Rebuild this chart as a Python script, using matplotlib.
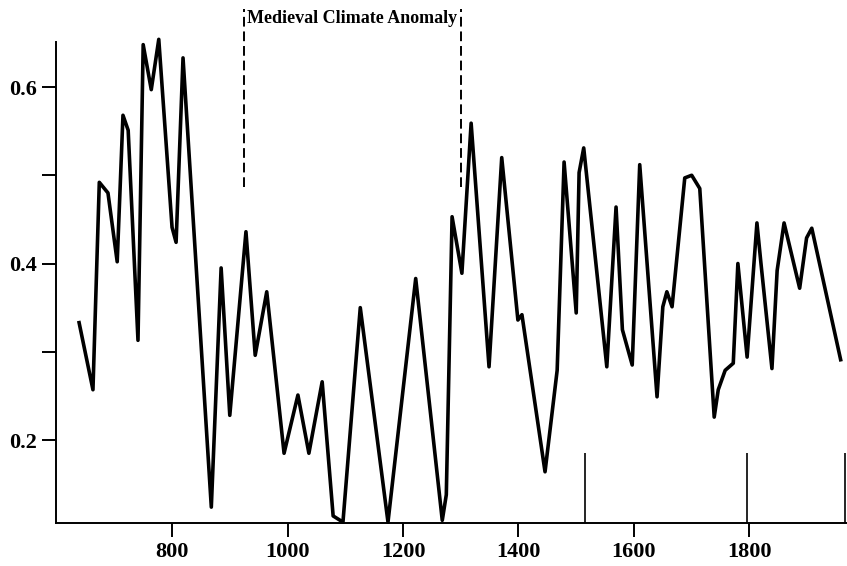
import matplotlib
matplotlib.use("Agg")
import matplotlib.pyplot as plt
from matplotlib.ticker import FixedLocator

# series
years = [639, 663, 674, 689, 705, 715, 724, 741, 750, 764,
         777, 800, 807, 819, 868, 885, 900, 928, 944, 964,
         994, 1018, 1037, 1060, 1079, 1096, 1126, 1174, 1222, 1268,
         1275, 1285, 1302, 1318, 1349, 1371, 1399, 1406, 1446, 1467,
         1479, 1500, 1505, 1513, 1553, 1569, 1580, 1597, 1610, 1640,
         1650, 1657, 1666, 1688, 1700, 1714, 1739, 1746, 1758, 1772,
         1780, 1796, 1813, 1820, 1839, 1848, 1860, 1887, 1899, 1908,
         1958]
values = [0.333, 0.257, 0.492, 0.48, 0.402, 0.568, 0.551, 0.313, 0.648, 0.597,
          0.654, 0.441, 0.424, 0.633, 0.124, 0.395, 0.228, 0.436, 0.296, 0.368,
          0.185, 0.251, 0.185, 0.266, 0.114, 0.107, 0.35, 0.107, 0.383, 0.109,
          0.138, 0.453, 0.389, 0.559, 0.283, 0.52, 0.336, 0.342, 0.164, 0.279,
          0.515, 0.344, 0.503, 0.531, 0.283, 0.464, 0.325, 0.285, 0.512, 0.249,
          0.351, 0.368, 0.351, 0.497, 0.5, 0.485, 0.226, 0.257, 0.279, 0.287,
          0.4, 0.294, 0.446, 0.4, 0.281, 0.392, 0.446, 0.372, 0.429, 0.44,
          0.291]

# Medieval Climate Anomaly bounds
mca_years = [925, 1300]
mca_label = "Medieval Climate Anomaly"

# short marker lines at the bottom
mark_years = [1515, 1796, 1966]

x_ticks = [800, 1000, 1200, 1400, 1600, 1800]
y_ticks = [0.2, 0.4, 0.6]
y_minor = [0.3, 0.5]

plt.rcParams['font.family'] = ['Liberation Serif', 'DejaVu Serif']

fig = plt.figure(figsize=(8.47, 5.66), dpi=100)
ax = fig.add_axes([56 / 847, 43 / 566, 791 / 847, 481 / 566])

ax.plot(years, values, color="black", linewidth=2.6, solid_joinstyle="round",
        clip_on=False)

ax.vlines(mark_years, 0.106, 0.185, color="black", linewidth=1.2)

for yr in mca_years:
    ax.plot([yr, yr], [0.487, 0.688], color="black", linewidth=1.4,
            linestyle=(0, (5, 2.5)), clip_on=False)
ax.text(sum(mca_years) / 2.0, 0.673, mca_label, ha="center", va="baseline",
        fontsize=13, fontweight="bold")

ax.set_xlim(599, 1969)
ax.set_ylim(0.106, 0.651)

ax.spines['top'].set_visible(False)
ax.spines['right'].set_visible(False)
ax.spines['left'].set_linewidth(1.4)
ax.spines['bottom'].set_linewidth(1.4)

ax.set_xticks(x_ticks)
ax.set_xticklabels([str(t) for t in x_ticks])
ax.set_yticks(y_ticks)
ax.set_yticklabels([str(t) for t in y_ticks])
ax.yaxis.set_minor_locator(FixedLocator(y_minor))

ax.tick_params(axis="both", which="both", direction="out", length=10, width=1.4)
ax.tick_params(axis="both", labelsize=16, pad=4)
for lab in ax.get_xticklabels() + ax.get_yticklabels():
    lab.set_fontweight("bold")

fig.savefig("out.png", dpi=100)
